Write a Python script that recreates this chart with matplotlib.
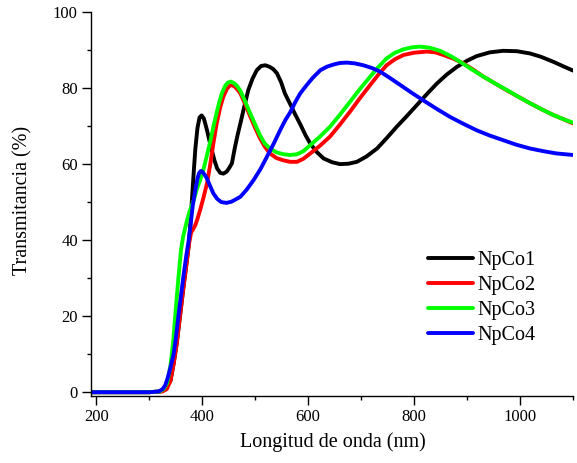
import matplotlib.pyplot as plt
from matplotlib.ticker import MultipleLocator

plt.rcParams["font.family"] = ["Liberation Serif", "DejaVu Serif"]

# wavelength (nm) / transmittance (%)
x_np1 = [190, 300, 322, 330, 340, 346, 352, 358, 364, 370, 374, 377, 380.5,
         384, 387, 391, 395, 399, 403, 406, 409, 413, 418, 423, 428, 434, 440,
         446, 451, 456, 462, 467, 472, 480, 487, 495, 503, 511, 519, 527, 534,
         541, 549, 556, 566, 575, 585, 595, 604, 616, 629, 645, 660, 676, 692,
         710, 730, 748, 767, 786, 805, 824, 843, 862, 881, 900, 918, 943, 968,
         994, 1019, 1040, 1063, 1082, 1100]
y_np1 = [0, 0, 0.2, 0.8, 3, 7.5, 13, 20, 27, 33.5, 38, 43, 50.5,
         58, 64, 69.5, 72.3, 72.8, 72, 70.5, 68.9, 66.5, 63.7, 61, 58.9, 57.7,
         57.5, 58, 59, 60.2, 64.6, 67.8, 70.7, 75.5, 79.5, 82.5, 84.7, 85.8,
         86, 85.6, 85, 83.9, 81.5, 78.6, 75.8, 73.2, 70.5, 67.6, 65.4, 63.2,
         61.5, 60.5, 60, 60.1, 60.6, 62, 64.1, 66.8, 69.8, 72.6, 75.5, 78.4,
         81.2, 83.6, 85.6, 87.2, 88.4, 89.4, 89.8, 89.7, 89.1, 88.2, 86.9,
         85.7, 84.6]

x_np2 = [190, 300, 325, 333, 340, 346, 352, 358, 364, 370, 375, 379, 383,
         387, 391, 396, 402, 409, 415, 421, 427, 434, 440, 447, 452, 456, 462,
         467, 472, 481, 491, 500, 509, 518, 528, 540, 553, 566, 579, 591, 604,
         622, 641, 660, 679, 698, 717, 733, 748, 764, 780, 800, 824, 840, 855,
         873, 893, 912, 931, 953, 975, 997, 1019, 1041, 1063, 1082, 1100]
y_np2 = [0, 0, 0.2, 0.8, 3, 7.5, 13, 20, 27, 33.5, 39, 42, 42.9,
         44, 45.6, 47.9, 51, 54.9, 59.8, 65.4, 70.5, 75, 77.8, 79.9, 80.6,
         80.8, 80.3, 79.5, 78.6, 75.8, 72.4, 69.5, 66.8, 64.6, 62.8, 61.6, 61,
         60.6, 60.6, 61.4, 62.8, 64.8, 67.2, 70.4, 73.8, 77.4, 80.8, 83.6, 86,
         87.6, 88.7, 89.3, 89.6, 89.4, 88.7, 87.8, 86.5, 84.8, 83, 81.2, 79.4,
         77.7, 76, 74.4, 72.9, 71.8, 70.7]

x_np3 = [190, 300, 320, 327, 334, 340, 345, 349, 355, 360, 364, 370, 376,
         384, 390, 396, 402, 408, 415, 421, 428, 433, 437, 443, 448, 454, 460,
         466, 472, 481, 491, 500, 509, 518, 528, 540, 553, 566, 579, 591, 604,
         622, 641, 660, 679, 698, 717, 733, 748, 764, 780, 795, 811, 830, 849,
         868, 887, 909, 931, 953, 975, 997, 1019, 1041, 1063, 1082, 1100]
y_np3 = [0, 0, 0.2, 0.8, 2.5, 7, 13, 20, 30, 37.5, 41, 44.5, 47.5,
         50.5, 53.5, 55.8, 58.4, 61.8, 65.8, 69.8, 74, 76.7, 78.6, 80.5, 81.4,
         81.7, 81.3, 80.5, 79.3, 76.5, 73.2, 70.4, 67.6, 65.4, 64.1, 63.1,
         62.6, 62.4, 62.6, 63.4, 65, 67.2, 69.8, 73, 76.4, 79.8, 83, 85.6,
         87.8, 89.3, 90.2, 90.7, 90.9, 90.6, 89.8, 88.5, 86.9, 84.9, 83, 81.2,
         79.5, 77.7, 76, 74.4, 72.9, 71.8, 70.9]

x_np4 = [190, 300, 318, 325, 330, 335, 340, 346, 350, 355, 360, 365, 370,
         374, 378, 382, 387, 391, 394, 397.5, 401, 405, 409, 415, 421, 428,
         436, 446, 455, 463, 472, 484, 497, 510, 522, 535, 547, 557, 566, 576,
         585, 595, 608, 623, 635, 648, 660, 673, 688, 704, 720, 736, 755, 774,
         795, 817, 843, 868, 893, 918, 943, 968, 993, 1019, 1044, 1069, 1100]
y_np4 = [0, 0, 0.2, 0.8, 1.8, 3.8, 6.5, 10, 14, 20, 25.5, 31, 36,
         39.5, 44, 49, 53.2, 56.2, 57.6, 58.2, 57.9, 57.1, 56.2, 54.2, 52.3,
         50.9, 50, 49.8, 50.1, 50.7, 51.4, 53.3, 55.8, 58.7, 61.9, 65.4, 68.9,
         71.6, 73.6, 76.4, 78.6, 80.4, 82.6, 84.7, 85.6, 86.2, 86.6, 86.7,
         86.5, 86, 85.3, 84.3, 82.6, 80.8, 78.8, 76.8, 74.5, 72.4, 70.6, 68.9,
         67.5, 66.3, 65.1, 64.1, 63.4, 62.8, 62.4]

series = [
    ("NpCo1", x_np1, y_np1, "#000000"),
    ("NpCo2", x_np2, y_np2, "#ff0000"),
    ("NpCo3", x_np3, y_np3, "#00ff00"),
    ("NpCo4", x_np4, y_np4, "#0000ff"),
]


def main():
    fig = plt.figure(figsize=(5.77, 4.63), dpi=100)
    ax = fig.add_axes([0.1577, 0.1447, 0.9931 - 0.1577, 0.974 - 0.1447])

    for name, xs, ys, color in series:
        ax.plot(xs, ys, color=color, lw=2.8, label=name,
                solid_joinstyle="round", solid_capstyle="round")

    ax.set_xlim(190, 1100)
    ax.set_ylim(-1, 100)
    ax.xaxis.set_major_locator(MultipleLocator(200))
    ax.xaxis.set_minor_locator(MultipleLocator(100))
    ax.yaxis.set_major_locator(MultipleLocator(20))
    ax.yaxis.set_minor_locator(MultipleLocator(10))
    ax.tick_params(which="both", direction="out", labelsize=12, width=1, pad=3)
    ax.tick_params(which="major", length=6.5)
    ax.tick_params(which="minor", length=3)

    ax.spines["top"].set_visible(False)
    ax.spines["right"].set_visible(False)
    ax.spines["left"].set_linewidth(1)
    ax.spines["bottom"].set_linewidth(1)

    ax.set_xlabel("Longitud de onda (nm)", fontsize=14.5)
    ax.set_ylabel("Transmitancia (%)", fontsize=14.5)
    ax.xaxis.set_label_coords(0.501, -0.094)
    ax.yaxis.set_label_coords(-0.122, 0.51)

    ax.legend(loc="upper left", bbox_to_anchor=(0.699, 0.378), frameon=False,
              fontsize=14.5, handlelength=2.25, handletextpad=0.2,
              labelspacing=0.3, borderpad=0, borderaxespad=0)

    fig.savefig("out.png", dpi=100)
    plt.close(fig)


if __name__ == "__main__":
    main()
